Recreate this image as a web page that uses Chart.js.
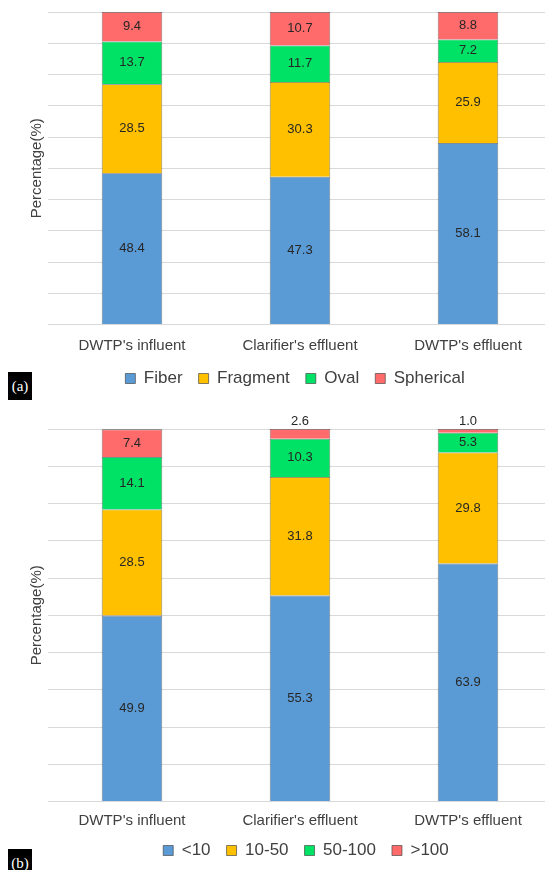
<!DOCTYPE html>
<html>
<head>
<meta charset="utf-8">
<script src="https://cdn.jsdelivr.net/npm/chart.js@4"></script>
<style>
  html, body { margin: 0; padding: 0; background: #fff; overflow: hidden; width: 545px; height: 870px; }
  .panel { position: absolute; left: 0; }
  .tag { position: absolute; left: 8px; width: 24px; height: 28px; background: #000; color: #fff;
         font: 15px "Liberation Serif", "DejaVu Serif", serif; text-align: center; line-height: 28px; }
</style>
</head>
<body>
<div class="panel" style="top:0"><canvas id="chartA" width="552" height="397"></canvas></div>
<div class="panel" style="top:400px"><canvas id="chartB" width="552" height="469"></canvas></div>
<div class="tag" style="top:372px">(a)</div>
<div class="tag" style="top:849px">(b)</div>
<script>
const categories = ["DWTP's influent", "Clarifier's effluent", "DWTP's effluent"];

// (a) shape
const shapeNames = ["Fiber", "Fragment", "Oval", "Spherical"];
const fiber = [48.4, 47.3, 58.1];
const fragment = [28.5, 30.3, 25.9];
const oval = [13.7, 11.7, 7.2];
const spherical = [9.4, 10.7, 8.8];

// (b) size
const sizeNames = ["<10", "10-50", "50-100", ">100"];
const sizeLt10 = [49.9, 55.3, 63.9];
const size10to50 = [28.5, 31.8, 29.8];
const size50to100 = [14.1, 10.3, 5.3];
const sizeGt100 = [7.4, 2.6, 1.0];

const colors = ["#5B9BD5", "#FFC000", "#00E266", "#FF6B6B"];
const font = '"Liberation Sans", Arial, sans-serif';

// value labels: middle of each segment, thin ones go above the stack
const valueLabels = {
  id: 'valueLabels',
  afterDatasetsDraw(chart) {
    const ctx = chart.ctx;
    ctx.save();
    ctx.font = '13px ' + font;
    ctx.fillStyle = '#262626';
    ctx.textAlign = 'center';
    ctx.textBaseline = 'middle';
    chart.data.datasets.forEach((ds, i) => {
      chart.getDatasetMeta(i).data.forEach((bar, j) => {
        const v = ds.data[j];
        const top = Math.min(bar.y, bar.base);
        const bottom = Math.max(bar.y, bar.base);
        let y = (top + bottom) / 2;
        if (v < 4) y = top - 8;
        ctx.fillText(v.toFixed(1), bar.x, y);
      });
    });
    ctx.restore();
  }
};

// nudge the legend sideways (it is centred on the plot in the original)
const legendShift = {
  id: 'legendShift',
  afterLayout(chart, args, opts) {
    chart.legend.left += opts.dx;
    chart.legend.right += opts.dx;
  }
};

function makeChart(id, names, series, padTop, tickPad, axisH, dx) {
  return new Chart(document.getElementById(id), {
    type: 'bar',
    data: {
      labels: categories,
      datasets: series.map((s, i) => ({
        label: names[i],
        data: s,
        backgroundColor: colors[i],
        borderColor: 'rgba(70,70,70,0.85)',
        borderWidth: 0.8,
        categoryPercentage: 1,
        barPercentage: 0.36
      }))
    },
    options: {
      responsive: false,
      animation: false,
      layout: { padding: { top: padTop, bottom: 0, left: 0, right: 0 } },
      scales: {
        x: {
          stacked: true,
          grid: { display: false, drawTicks: false },
          border: { display: true, color: '#D9D9D9' },
          ticks: { color: '#404040', font: { family: font, size: 15 }, padding: tickPad },
          afterFit(scale) { scale.height = axisH; }
        },
        y: {
          stacked: true,
          min: 0,
          max: 100,
          ticks: { display: false, stepSize: 10 },
          grid: { color: '#D9D9D9', drawTicks: false },
          border: { display: false },
          title: { display: true, text: 'Percentage(%)', color: '#404040',
                   font: { family: font, size: 15 }, padding: { top: 28, bottom: 0 } },
          afterFit(scale) { scale.width = 48; }
        }
      },
      plugins: {
        legend: {
          position: 'bottom',
          labels: { color: '#404040', font: { family: font, size: 17 }, boxWidth: 10, boxHeight: 10, padding: 16 }
        },
        legendShift: { dx: dx },
        tooltip: { enabled: false }
      }
    },
    plugins: [valueLabels, legendShift]
  });
}

makeChart('chartA', shapeNames, [fiber, fragment, oval, spherical], 12, 12, 29.5, 19);
makeChart('chartB', sizeNames, [sizeLt10, size10to50, size50to100, sizeGt100], 29, 10, 24.5, 30);
</script>
</body>
</html>
